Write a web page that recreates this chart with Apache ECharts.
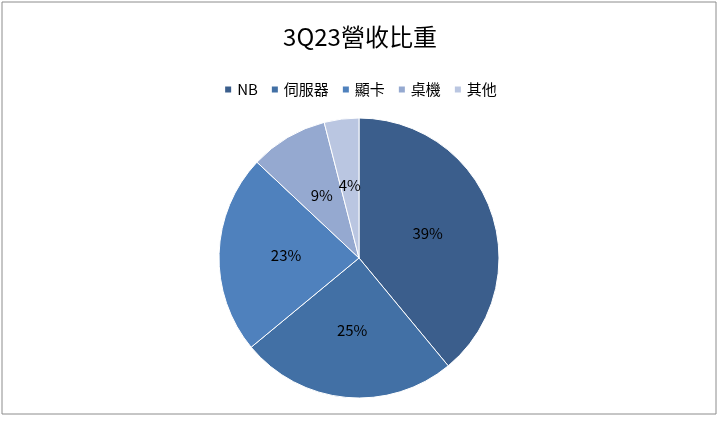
<!DOCTYPE html>
<html><head><meta charset="utf-8">
<script src="https://cdn.jsdelivr.net/npm/echarts@6/dist/echarts.min.js"></script>
<style>html,body{margin:0;padding:0;background:#fff}#c{width:720px;height:422px;box-sizing:border-box}</style>
</head><body>
<div id="c"></div>
<script>
const categories = ['NB','伺服器','顯卡','桌機','其他'];
const values = [39,25,23,9,4];
const colors = ['#3B5E8C','#4270A5','#4F81BD','#95A9D0','#BAC6E1'];
const chart = echarts.init(document.getElementById('c'));
const font = '"Noto Sans CJK TC", "DejaVu Serif", serif';
chart.setOption({
  animation:false,
  graphic:[{type:'rect',shape:{x:2,y:2,width:714,height:412},style:{fill:'none',stroke:'#8c8c8c',lineWidth:1}}],
  title:{text:'3Q23營收比重',left:'center',top:20,textStyle:{fontFamily:font,fontSize:24,fontWeight:'normal',color:'#000'}},
  legend:{top:77,left:'center',itemWidth:8,itemHeight:8,icon:'rect',itemGap:12,
    textStyle:{fontFamily:font,fontSize:15,color:'#000'},data:categories},
  color:colors,
  series:[{type:'pie',center:[359,258],radius:140,startAngle:90,clockwise:true,
    label:{position:'inside',formatter:'{d}%',fontFamily:font,fontSize:15,color:'#000'},
    labelLine:{show:false},itemStyle:{borderColor:'#fff',borderWidth:1},
    data:categories.map((n,i)=>({name:n,value:values[i]}))}]
});
</script></body></html>
